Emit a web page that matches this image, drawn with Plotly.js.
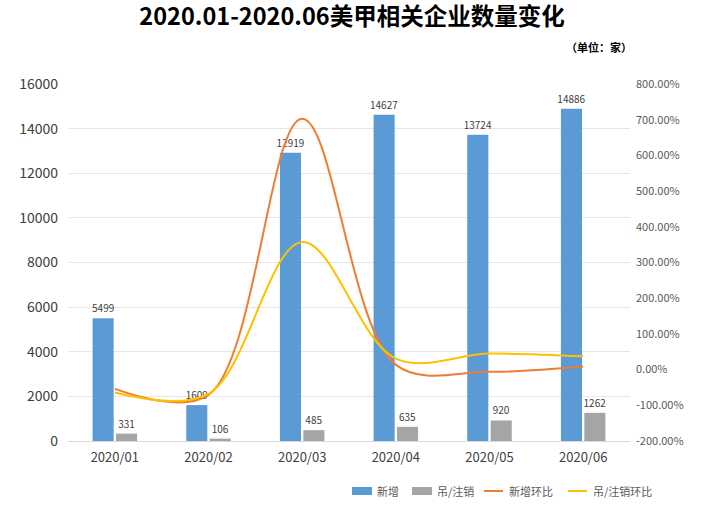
<!DOCTYPE html>
<html>
<head>
<meta charset="utf-8">
<script src="https://cdn.plot.ly/plotly-3.0.1.min.js"></script>
<style>html,body{margin:0;padding:0;background:#fff;}#chart{width:709px;height:508px;}</style>
</head>
<body>
<div id="chart"></div>
<script>
const months = ["2020/01", "2020/02", "2020/03", "2020/04", "2020/05", "2020/06"];
const newCount = [5499, 1609, 12919, 14627, 13724, 14886];
const cancelCount = [331, 106, 485, 635, 920, 1262];
const newMoM = [-54.0, -70.74, 702.92, 13.22, -6.17, 8.47];
const cancelMoM = [-64.0, -67.98, 357.55, 30.93, 44.88, 37.17];
const leftTicks = [0, 2000, 4000, 6000, 8000, 10000, 12000, 14000, 16000];
const rightTicks = [-200, -100, 0, 100, 200, 300, 400, 500, 600, 700, 800];
const legendNames = ['新增', '吊/注销', '新增环比', '吊/注销环比'];

const FONT = '"Noto Sans CJK SC", "Noto Sans", sans-serif';
const BLUE = '#5B9BD5', GRAY = '#A5A5A5', ORANGE = '#ED7D31', YELLOW = '#FFC000';

const traces = [
  {type: 'bar', name: legendNames[0], x: months, y: newCount,
   marker: {color: BLUE}, text: newCount.map(String), textposition: 'outside', constraintext: 'none',
   textfont: {size: 10, color: '#404040', family: FONT}, cliponaxis: false},
  {type: 'bar', name: legendNames[1], x: months, y: cancelCount,
   marker: {color: GRAY}, text: cancelCount.map(String), textposition: 'outside', constraintext: 'none',
   textfont: {size: 10, color: '#404040', family: FONT}, cliponaxis: false},
  {type: 'scatter', mode: 'lines', name: legendNames[2], x: months, y: newMoM, yaxis: 'y2',
   line: {color: ORANGE, width: 2, shape: 'spline', smoothing: 1}},
  {type: 'scatter', mode: 'lines', name: legendNames[3], x: months, y: cancelMoM, yaxis: 'y2',
   line: {color: YELLOW, width: 2, shape: 'spline', smoothing: 1}}
];

// custom legend (paper coords: plot area x 68..630, y 84..441)
const W = 562, H = 357;
const px = v => (v - 68) / W;
const py = v => (441 - v) / H;
const legY = 491;
const legItems = [
  {kind: 'rect', color: BLUE, x0: 352, x1: 372, tx: 375},
  {kind: 'rect', color: GRAY, x0: 412, x1: 432, tx: 435},
  {kind: 'line', color: ORANGE, x0: 484, x1: 503, tx: 507},
  {kind: 'line', color: YELLOW, x0: 568, x1: 587, tx: 591}
];
const shapes = legItems.map(it => it.kind === 'rect'
  ? {type: 'rect', xref: 'paper', yref: 'paper', x0: px(it.x0), x1: px(it.x1), y0: py(legY + 4), y1: py(legY - 4),
     fillcolor: it.color, line: {width: 0}}
  : {type: 'line', xref: 'paper', yref: 'paper', x0: px(it.x0), x1: px(it.x1), y0: py(legY), y1: py(legY),
     line: {color: it.color, width: 2}});
const annotations = legItems.map((it, i) => ({
  text: legendNames[i], xref: 'paper', yref: 'paper', x: px(it.tx), y: py(legY),
  xanchor: 'left', yanchor: 'middle', showarrow: false, font: {size: 11, color: '#595959', family: FONT}
}));
annotations.push({text: '<b>（单位：家）</b>', xref: 'paper', yref: 'paper', x: px(634), y: py(47),
  xanchor: 'right', yanchor: 'middle', showarrow: false, font: {size: 11, color: '#000', family: FONT}});

const layout = {
  width: 709, height: 508,
  margin: {l: 68, r: 79, t: 84, b: 67},
  paper_bgcolor: '#fff', plot_bgcolor: '#fff',
  font: {family: FONT, color: '#404040'},
  showlegend: false,
  title: {text: '<b>2020.01-2020.06美甲相关企业数量变化</b>', font: {size: 23.5, color: '#000', family: FONT},
          x: px(352), xref: 'paper', xanchor: 'center', yref: 'container', y: 1 - 17 / 508, yanchor: 'middle'},
  barmode: 'group', bargap: 0.5, bargroupgap: 0.1,
  xaxis: {type: 'category', tickvals: months, ticktext: months, showgrid: false,
          showline: true, linecolor: '#D9D9D9', linewidth: 1,
          tickfont: {size: 13, color: '#404040', family: FONT}, ticks: '', ticklabelstandoff: 4},
  yaxis: {range: [0, 16000], tickvals: leftTicks, ticktext: leftTicks.map(String),
          showgrid: true, gridcolor: '#E6E6E6', gridwidth: 1, zeroline: false, showline: false,
          tickfont: {size: 14, color: '#404040', family: FONT}, ticks: '', ticklabelstandoff: 9},
  yaxis2: {range: [-200, 800], overlaying: 'y', side: 'right', tickvals: rightTicks,
           ticktext: rightTicks.map(v => v.toFixed(2) + '%'), showgrid: false, zeroline: false,
           showline: false, tickfont: {size: 11, color: '#595959', family: FONT}, ticks: '',
           ticklabelstandoff: 5},
  shapes: shapes,
  annotations: annotations
};

Plotly.newPlot('chart', traces, layout, {displayModeBar: false, staticPlot: true});
</script>
</body>
</html>
